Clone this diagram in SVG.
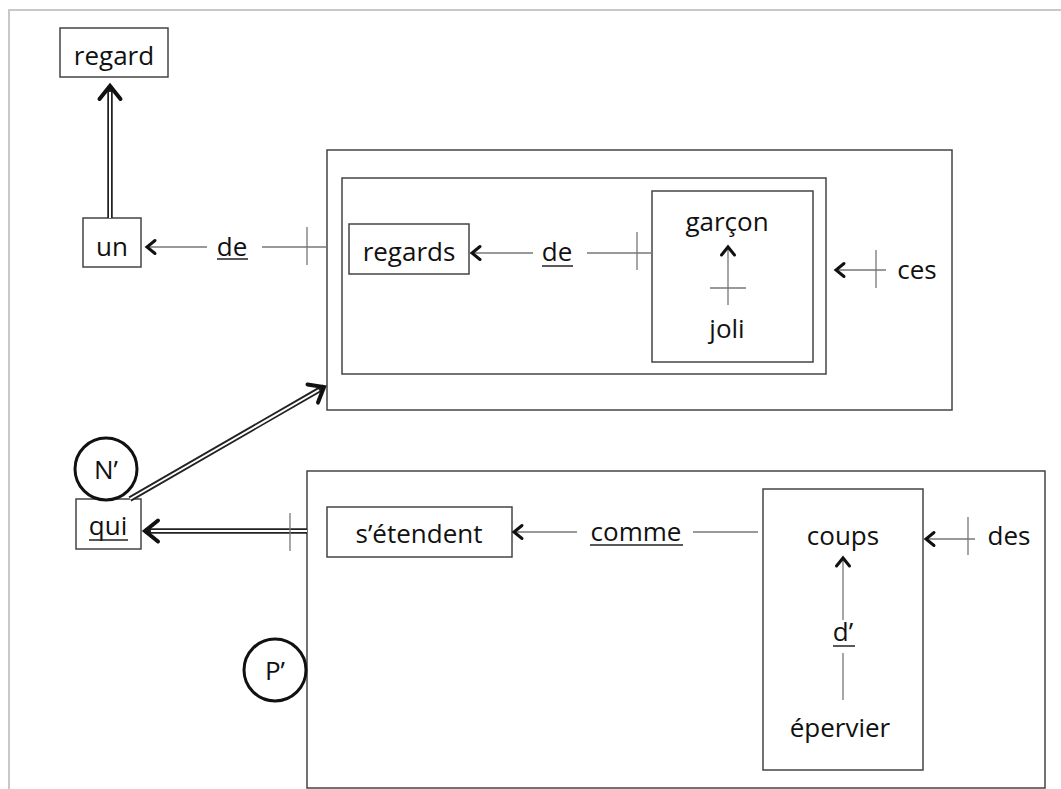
<svg xmlns="http://www.w3.org/2000/svg" width="1061" height="789" viewBox="0 0 1061 789">
<style>
text{font-family:"Open Sans","Liberation Sans",sans-serif;font-size:26px;fill:#111;text-anchor:middle}
.box{fill:#fff;stroke:#444;stroke-width:1.5}
.ln{stroke:#777;stroke-width:1.3;fill:none}
.ul{stroke:#222;stroke-width:1.5}
.dbl{stroke:#222;stroke-width:5.5;fill:none}
.dbi{stroke:#fff;stroke-width:2;fill:none}
.circ{fill:#fff;stroke:#111;stroke-width:3}
.frame{stroke:#c8c8c8;stroke-width:2;fill:none}
</style>
<defs>
<marker id="a" markerUnits="userSpaceOnUse" markerWidth="20" markerHeight="20" refX="0" refY="0" orient="auto" overflow="visible">
<path d="M-8,-6.5 L0,0 L-8,6.5" fill="none" stroke="#111" stroke-width="3" stroke-linecap="round" stroke-linejoin="miter"/>
</marker>
<marker id="b" markerUnits="userSpaceOnUse" markerWidth="30" markerHeight="30" refX="0" refY="0" orient="auto" overflow="visible">
<path d="M-13,-10.5 L0,0 L-13,10.5" fill="none" stroke="#111" stroke-width="4" stroke-linecap="round" stroke-linejoin="miter"/>
</marker>
</defs>
<path class="frame" d="M9,789 V10 H1061"/>

<g id="box-ces"><rect class="box" x="327" y="150" width="625" height="260"/></g>
<g id="box-regards-group"><rect class="box" x="342" y="178" width="484" height="196"/></g>
<g id="box-garcon"><rect class="box" x="652" y="191" width="161" height="171"/>
<text x="727" y="231">garçon</text><text x="727" y="338">joli</text></g>
<g id="box-pprime"><rect class="box" x="307" y="471" width="738" height="317"/></g>
<g id="box-coups"><rect class="box" x="763" y="489" width="160" height="281"/>
<text x="843" y="545">coups</text><text x="840" y="737">épervier</text></g>

<g id="node-regard"><rect class="box" x="60" y="28" width="108" height="49"/><text x="114" y="65">regard</text></g>
<g id="node-un"><rect class="box" x="83" y="218" width="58" height="49"/><text x="112" y="256">un</text></g>
<g id="node-regards"><rect class="box" x="349" y="224" width="120" height="50"/><text x="409" y="261">regards</text></g>
<g id="node-qui"><rect class="box" x="76" y="499" width="65" height="50"/><text x="108" y="535">qui</text><line class="ul" x1="89" y1="540" x2="128" y2="540"/></g>
<g id="node-setendent"><rect class="box" x="327" y="507" width="185" height="50"/><text x="419" y="543">s’étendent</text></g>
<g id="node-ces"><text x="917" y="279">ces</text></g>
<g id="node-des"><text x="1009" y="545">des</text></g>
<g id="node-nprime"><circle class="circ" cx="106" cy="469" r="31"/><text x="106" y="479">N’</text></g>
<g id="node-pprime"><circle class="circ" cx="275" cy="670" r="31"/><text x="275" y="680">P’</text></g>

<g id="connectors">
<path class="dbl" d="M110,218 V86" marker-end="url(#b)"/>
<path class="dbi" d="M110,218 V92"/>
<path class="dbl" d="M130,499 L324,387" marker-end="url(#b)"/>
<path class="dbi" d="M130,499 L319,390"/>
<path class="dbl" d="M307,531 H145" marker-end="url(#b)"/>
<path class="dbi" d="M307,531 H151"/>
<line class="ln" x1="290" y1="513" x2="290" y2="551"/>

<path class="ln" d="M207,247 H147" marker-end="url(#a)"/>
<text x="232" y="256">de</text><line class="ul" x1="217" y1="259" x2="248" y2="259"/>
<line class="ln" x1="262" y1="247" x2="327" y2="247"/>
<line class="ln" x1="307" y1="227" x2="307" y2="265"/>

<path class="ln" d="M533,253 H472" marker-end="url(#a)"/>
<text x="557" y="261">de</text><line class="ul" x1="542" y1="266" x2="573" y2="266"/>
<line class="ln" x1="587" y1="253" x2="652" y2="253"/>
<line class="ln" x1="637" y1="232" x2="637" y2="270"/>

<path class="ln" d="M728,305 V247" marker-end="url(#a)"/>
<line class="ln" x1="710" y1="288" x2="746" y2="288"/>

<path class="ln" d="M886,270 H836" marker-end="url(#a)"/>
<line class="ln" x1="876" y1="250" x2="876" y2="288"/>

<path class="ln" d="M577,532 H514" marker-end="url(#a)"/>
<text x="636" y="541">comme</text><line class="ul" x1="590" y1="545" x2="683" y2="545"/>
<line class="ln" x1="693" y1="532" x2="758" y2="532"/>

<path class="ln" d="M843,620 V558" marker-end="url(#a)"/>
<text x="843" y="641">d’</text><line class="ul" x1="833" y1="646" x2="855" y2="646"/>
<line class="ln" x1="843" y1="653" x2="843" y2="700"/>

<path class="ln" d="M975,539 H926" marker-end="url(#a)"/>
<line class="ln" x1="968" y1="517" x2="968" y2="555"/>
</g>
</svg>
